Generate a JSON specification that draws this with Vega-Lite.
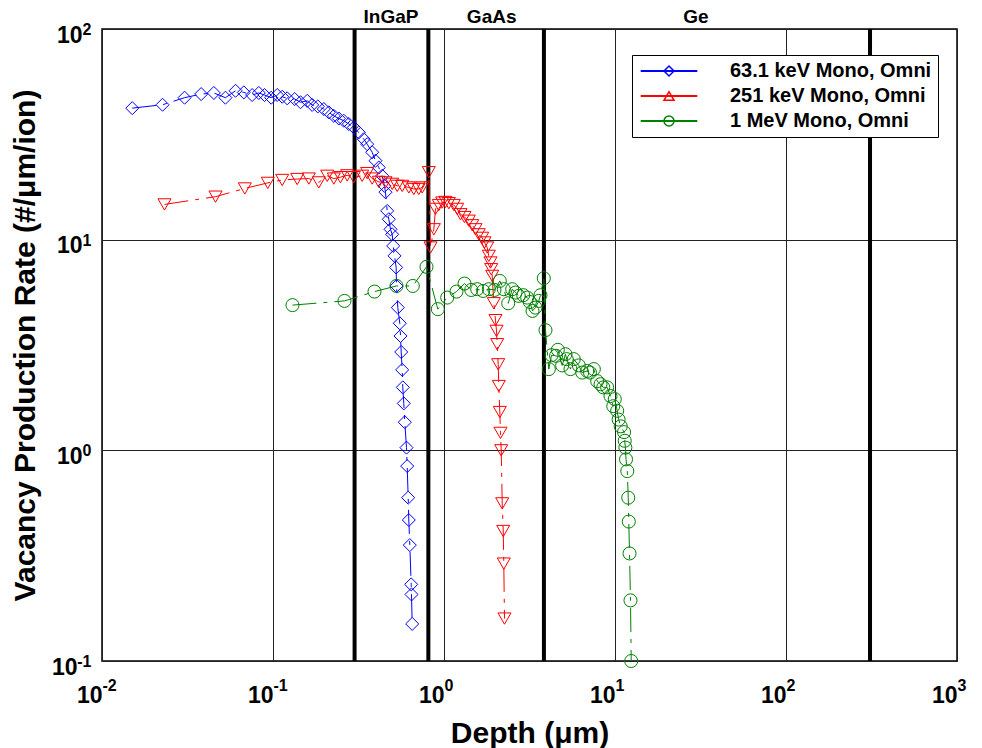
{
  "$schema": "https://vega.github.io/schema/vega-lite/v6.json",
  "width": 855,
  "height": 632,
  "autosize": {"type": "none"},
  "padding": {"left": 102, "top": 29, "right": 25, "bottom": 87},
  "background": "white",
  "config": {
    "view": {"stroke": "black", "strokeWidth": 1.5},
    "font": "Liberation Sans",
    "axis": {
      "grid": true, "gridColor": "#222222", "gridWidth": 1, "gridOpacity": 1,
      "domain": false, "ticks": false,
      "labelFont": "Liberation Sans", "labelFontWeight": "bold", "labelFontSize": 23, "labelColor": "black",
      "titleFont": "Liberation Sans", "titleFontWeight": "bold", "titleFontSize": 30, "titleColor": "black",
      "labelFlush": false, "labelOverlap": false, "labelBound": false
    }
  },
  "datasets": {
    "curves": [
      {"series": "63.1 keV Mono, Omni", "depth": 0.01503, "rate": 42.1},
      {"series": "63.1 keV Mono, Omni", "depth": 0.0226, "rate": 43.7},
      {"series": "63.1 keV Mono, Omni", "depth": 0.0304, "rate": 47.2},
      {"series": "63.1 keV Mono, Omni", "depth": 0.038, "rate": 49.1},
      {"series": "63.1 keV Mono, Omni", "depth": 0.0451, "rate": 49.7},
      {"series": "63.1 keV Mono, Omni", "depth": 0.0527, "rate": 47.2},
      {"series": "63.1 keV Mono, Omni", "depth": 0.0604, "rate": 50.9},
      {"series": "63.1 keV Mono, Omni", "depth": 0.0675, "rate": 50.0},
      {"series": "63.1 keV Mono, Omni", "depth": 0.0755, "rate": 48.6},
      {"series": "63.1 keV Mono, Omni", "depth": 0.0826, "rate": 49.7},
      {"series": "63.1 keV Mono, Omni", "depth": 0.0892, "rate": 48.6},
      {"series": "63.1 keV Mono, Omni", "depth": 0.0976, "rate": 47.2},
      {"series": "63.1 keV Mono, Omni", "depth": 0.1058, "rate": 48.6},
      {"series": "63.1 keV Mono, Omni", "depth": 0.1132, "rate": 47.7},
      {"series": "63.1 keV Mono, Omni", "depth": 0.121, "rate": 46.9},
      {"series": "63.1 keV Mono, Omni", "depth": 0.134, "rate": 46.5},
      {"series": "63.1 keV Mono, Omni", "depth": 0.1448, "rate": 44.9},
      {"series": "63.1 keV Mono, Omni", "depth": 0.1585, "rate": 45.6},
      {"series": "63.1 keV Mono, Omni", "depth": 0.1695, "rate": 43.6},
      {"series": "63.1 keV Mono, Omni", "depth": 0.1828, "rate": 42.9},
      {"series": "63.1 keV Mono, Omni", "depth": 0.1982, "rate": 41.7},
      {"series": "63.1 keV Mono, Omni", "depth": 0.212, "rate": 40.2},
      {"series": "63.1 keV Mono, Omni", "depth": 0.2268, "rate": 38.7},
      {"series": "63.1 keV Mono, Omni", "depth": 0.2426, "rate": 37.6},
      {"series": "63.1 keV Mono, Omni", "depth": 0.2594, "rate": 36.7},
      {"series": "63.1 keV Mono, Omni", "depth": 0.2775, "rate": 35.4},
      {"series": "63.1 keV Mono, Omni", "depth": 0.2969, "rate": 34.1},
      {"series": "63.1 keV Mono, Omni", "depth": 0.3175, "rate": 32.3},
      {"series": "63.1 keV Mono, Omni", "depth": 0.3396, "rate": 30.0},
      {"series": "63.1 keV Mono, Omni", "depth": 0.3555, "rate": 28.4},
      {"series": "63.1 keV Mono, Omni", "depth": 0.3802, "rate": 26.0},
      {"series": "63.1 keV Mono, Omni", "depth": 0.3975, "rate": 23.7},
      {"series": "63.1 keV Mono, Omni", "depth": 0.4156, "rate": 22.0},
      {"series": "63.1 keV Mono, Omni", "depth": 0.4351, "rate": 20.1},
      {"series": "63.1 keV Mono, Omni", "depth": 0.4487, "rate": 18.0},
      {"series": "63.1 keV Mono, Omni", "depth": 0.4548, "rate": 16.8},
      {"series": "63.1 keV Mono, Omni", "depth": 0.4653, "rate": 13.7},
      {"series": "63.1 keV Mono, Omni", "depth": 0.4755, "rate": 12.5},
      {"series": "63.1 keV Mono, Omni", "depth": 0.4865, "rate": 11.2},
      {"series": "63.1 keV Mono, Omni", "depth": 0.4978, "rate": 10.6},
      {"series": "63.1 keV Mono, Omni", "depth": 0.5047, "rate": 9.34},
      {"series": "63.1 keV Mono, Omni", "depth": 0.5134, "rate": 8.38},
      {"series": "63.1 keV Mono, Omni", "depth": 0.525, "rate": 7.38},
      {"series": "63.1 keV Mono, Omni", "depth": 0.5275, "rate": 6.03},
      {"series": "63.1 keV Mono, Omni", "depth": 0.5368, "rate": 4.76},
      {"series": "63.1 keV Mono, Omni", "depth": 0.5514, "rate": 4.01},
      {"series": "63.1 keV Mono, Omni", "depth": 0.5566, "rate": 3.49},
      {"series": "63.1 keV Mono, Omni", "depth": 0.5619, "rate": 2.93},
      {"series": "63.1 keV Mono, Omni", "depth": 0.5696, "rate": 2.41},
      {"series": "63.1 keV Mono, Omni", "depth": 0.5741, "rate": 1.99},
      {"series": "63.1 keV Mono, Omni", "depth": 0.5819, "rate": 1.67},
      {"series": "63.1 keV Mono, Omni", "depth": 0.5899, "rate": 1.36},
      {"series": "63.1 keV Mono, Omni", "depth": 0.6035, "rate": 1.03},
      {"series": "63.1 keV Mono, Omni", "depth": 0.6092, "rate": 0.842},
      {"series": "63.1 keV Mono, Omni", "depth": 0.6174, "rate": 0.596},
      {"series": "63.1 keV Mono, Omni", "depth": 0.6225, "rate": 0.467},
      {"series": "63.1 keV Mono, Omni", "depth": 0.631, "rate": 0.355},
      {"series": "63.1 keV Mono, Omni", "depth": 0.643, "rate": 0.231},
      {"series": "63.1 keV Mono, Omni", "depth": 0.6457, "rate": 0.207},
      {"series": "63.1 keV Mono, Omni", "depth": 0.6516, "rate": 0.150},
      {"series": "251 keV Mono, Omni", "depth": 0.0232, "rate": 14.7},
      {"series": "251 keV Mono, Omni", "depth": 0.0461, "rate": 16.0},
      {"series": "251 keV Mono, Omni", "depth": 0.0684, "rate": 17.5},
      {"series": "251 keV Mono, Omni", "depth": 0.0932, "rate": 18.6},
      {"series": "251 keV Mono, Omni", "depth": 0.1132, "rate": 19.2},
      {"series": "251 keV Mono, Omni", "depth": 0.1385, "rate": 19.4},
      {"series": "251 keV Mono, Omni", "depth": 0.162, "rate": 19.5},
      {"series": "251 keV Mono, Omni", "depth": 0.1852, "rate": 18.7},
      {"series": "251 keV Mono, Omni", "depth": 0.2075, "rate": 20.1},
      {"series": "251 keV Mono, Omni", "depth": 0.2268, "rate": 19.5},
      {"series": "251 keV Mono, Omni", "depth": 0.248, "rate": 19.8},
      {"series": "251 keV Mono, Omni", "depth": 0.2716, "rate": 20.2},
      {"series": "251 keV Mono, Omni", "depth": 0.2969, "rate": 19.8},
      {"series": "251 keV Mono, Omni", "depth": 0.3323, "rate": 20.1},
      {"series": "251 keV Mono, Omni", "depth": 0.3555, "rate": 20.7},
      {"series": "251 keV Mono, Omni", "depth": 0.3802, "rate": 19.5},
      {"series": "251 keV Mono, Omni", "depth": 0.4156, "rate": 18.8},
      {"series": "251 keV Mono, Omni", "depth": 0.4548, "rate": 18.7},
      {"series": "251 keV Mono, Omni", "depth": 0.4978, "rate": 18.4},
      {"series": "251 keV Mono, Omni", "depth": 0.5325, "rate": 18.0},
      {"series": "251 keV Mono, Omni", "depth": 0.5696, "rate": 18.0},
      {"series": "251 keV Mono, Omni", "depth": 0.6225, "rate": 17.7},
      {"series": "251 keV Mono, Omni", "depth": 0.6659, "rate": 17.4},
      {"series": "251 keV Mono, Omni", "depth": 0.712, "rate": 17.4},
      {"series": "251 keV Mono, Omni", "depth": 0.7455, "rate": 17.7},
      {"series": "251 keV Mono, Omni", "depth": 0.815, "rate": 20.9},
      {"series": "251 keV Mono, Omni", "depth": 0.834, "rate": 9.18},
      {"series": "251 keV Mono, Omni", "depth": 0.872, "rate": 11.2},
      {"series": "251 keV Mono, Omni", "depth": 0.892, "rate": 14.0},
      {"series": "251 keV Mono, Omni", "depth": 0.932, "rate": 14.6},
      {"series": "251 keV Mono, Omni", "depth": 0.976, "rate": 15.0},
      {"series": "251 keV Mono, Omni", "depth": 1.02, "rate": 15.1},
      {"series": "251 keV Mono, Omni", "depth": 1.067, "rate": 14.9},
      {"series": "251 keV Mono, Omni", "depth": 1.141, "rate": 14.6},
      {"series": "251 keV Mono, Omni", "depth": 1.195, "rate": 14.0},
      {"series": "251 keV Mono, Omni", "depth": 1.249, "rate": 13.2},
      {"series": "251 keV Mono, Omni", "depth": 1.318, "rate": 12.8},
      {"series": "251 keV Mono, Omni", "depth": 1.396, "rate": 12.3},
      {"series": "251 keV Mono, Omni", "depth": 1.462, "rate": 11.7},
      {"series": "251 keV Mono, Omni", "depth": 1.528, "rate": 11.2},
      {"series": "251 keV Mono, Omni", "depth": 1.597, "rate": 10.6},
      {"series": "251 keV Mono, Omni", "depth": 1.673, "rate": 10.2},
      {"series": "251 keV Mono, Omni", "depth": 1.725, "rate": 9.7},
      {"series": "251 keV Mono, Omni", "depth": 1.789, "rate": 9.18},
      {"series": "251 keV Mono, Omni", "depth": 1.828, "rate": 8.38},
      {"series": "251 keV Mono, Omni", "depth": 1.87, "rate": 7.79},
      {"series": "251 keV Mono, Omni", "depth": 1.888, "rate": 7.24},
      {"series": "251 keV Mono, Omni", "depth": 1.914, "rate": 6.73},
      {"series": "251 keV Mono, Omni", "depth": 1.956, "rate": 4.99},
      {"series": "251 keV Mono, Omni", "depth": 2.0, "rate": 4.15},
      {"series": "251 keV Mono, Omni", "depth": 2.028, "rate": 3.69},
      {"series": "251 keV Mono, Omni", "depth": 2.047, "rate": 3.19},
      {"series": "251 keV Mono, Omni", "depth": 2.075, "rate": 2.56},
      {"series": "251 keV Mono, Omni", "depth": 2.092, "rate": 2.02},
      {"series": "251 keV Mono, Omni", "depth": 2.12, "rate": 1.52},
      {"series": "251 keV Mono, Omni", "depth": 2.14, "rate": 1.21},
      {"series": "251 keV Mono, Omni", "depth": 2.161, "rate": 1.0},
      {"series": "251 keV Mono, Omni", "depth": 2.19, "rate": 0.56},
      {"series": "251 keV Mono, Omni", "depth": 2.22, "rate": 0.414},
      {"series": "251 keV Mono, Omni", "depth": 2.237, "rate": 0.29},
      {"series": "251 keV Mono, Omni", "depth": 2.258, "rate": 0.159},
      {"series": "1 MeV Mono, Omni", "depth": 0.13, "rate": 4.89},
      {"series": "1 MeV Mono, Omni", "depth": 0.2618, "rate": 5.12},
      {"series": "1 MeV Mono, Omni", "depth": 0.3923, "rate": 5.67},
      {"series": "1 MeV Mono, Omni", "depth": 0.5275, "rate": 6.03},
      {"series": "1 MeV Mono, Omni", "depth": 0.657, "rate": 6.03},
      {"series": "1 MeV Mono, Omni", "depth": 0.79, "rate": 7.43},
      {"series": "1 MeV Mono, Omni", "depth": 0.92, "rate": 4.68},
      {"series": "1 MeV Mono, Omni", "depth": 1.044, "rate": 5.31},
      {"series": "1 MeV Mono, Omni", "depth": 1.183, "rate": 5.67},
      {"series": "1 MeV Mono, Omni", "depth": 1.318, "rate": 6.19},
      {"series": "1 MeV Mono, Omni", "depth": 1.443, "rate": 5.77},
      {"series": "1 MeV Mono, Omni", "depth": 1.564, "rate": 5.82},
      {"series": "1 MeV Mono, Omni", "depth": 1.695, "rate": 5.71},
      {"series": "1 MeV Mono, Omni", "depth": 1.828, "rate": 5.82},
      {"series": "1 MeV Mono, Omni", "depth": 1.974, "rate": 5.77},
      {"series": "1 MeV Mono, Omni", "depth": 2.12, "rate": 6.37},
      {"series": "1 MeV Mono, Omni", "depth": 2.237, "rate": 5.82},
      {"series": "1 MeV Mono, Omni", "depth": 2.374, "rate": 4.99},
      {"series": "1 MeV Mono, Omni", "depth": 2.505, "rate": 5.82},
      {"series": "1 MeV Mono, Omni", "depth": 2.619, "rate": 5.61},
      {"series": "1 MeV Mono, Omni", "depth": 2.738, "rate": 5.41},
      {"series": "1 MeV Mono, Omni", "depth": 2.906, "rate": 5.45},
      {"series": "1 MeV Mono, Omni", "depth": 3.065, "rate": 5.31},
      {"series": "1 MeV Mono, Omni", "depth": 3.177, "rate": 5.06},
      {"series": "1 MeV Mono, Omni", "depth": 3.293, "rate": 4.59},
      {"series": "1 MeV Mono, Omni", "depth": 3.428, "rate": 4.76},
      {"series": "1 MeV Mono, Omni", "depth": 3.584, "rate": 5.12},
      {"series": "1 MeV Mono, Omni", "depth": 3.667, "rate": 5.45},
      {"series": "1 MeV Mono, Omni", "depth": 3.833, "rate": 6.56},
      {"series": "1 MeV Mono, Omni", "depth": 3.922, "rate": 3.72},
      {"series": "1 MeV Mono, Omni", "depth": 4.102, "rate": 2.43},
      {"series": "1 MeV Mono, Omni", "depth": 4.253, "rate": 2.83},
      {"series": "1 MeV Mono, Omni", "depth": 4.52, "rate": 2.81},
      {"series": "1 MeV Mono, Omni", "depth": 4.63, "rate": 3.0},
      {"series": "1 MeV Mono, Omni", "depth": 4.91, "rate": 2.53},
      {"series": "1 MeV Mono, Omni", "depth": 5.13, "rate": 2.86},
      {"series": "1 MeV Mono, Omni", "depth": 5.22, "rate": 2.71},
      {"series": "1 MeV Mono, Omni", "depth": 5.49, "rate": 2.43},
      {"series": "1 MeV Mono, Omni", "depth": 5.74, "rate": 2.71},
      {"series": "1 MeV Mono, Omni", "depth": 6.14, "rate": 2.53},
      {"series": "1 MeV Mono, Omni", "depth": 6.43, "rate": 2.34},
      {"series": "1 MeV Mono, Omni", "depth": 6.88, "rate": 2.38},
      {"series": "1 MeV Mono, Omni", "depth": 7.14, "rate": 2.34},
      {"series": "1 MeV Mono, Omni", "depth": 7.52, "rate": 2.43},
      {"series": "1 MeV Mono, Omni", "depth": 7.87, "rate": 2.13},
      {"series": "1 MeV Mono, Omni", "depth": 8.23, "rate": 2.06},
      {"series": "1 MeV Mono, Omni", "depth": 8.54, "rate": 1.99},
      {"series": "1 MeV Mono, Omni", "depth": 9.0, "rate": 1.99},
      {"series": "1 MeV Mono, Omni", "depth": 9.41, "rate": 1.81},
      {"series": "1 MeV Mono, Omni", "depth": 9.77, "rate": 1.62},
      {"series": "1 MeV Mono, Omni", "depth": 9.97, "rate": 1.75},
      {"series": "1 MeV Mono, Omni", "depth": 10.3, "rate": 1.54},
      {"series": "1 MeV Mono, Omni", "depth": 10.5, "rate": 1.4},
      {"series": "1 MeV Mono, Omni", "depth": 10.8, "rate": 1.3},
      {"series": "1 MeV Mono, Omni", "depth": 11.3, "rate": 1.22},
      {"series": "1 MeV Mono, Omni", "depth": 11.4, "rate": 1.11},
      {"series": "1 MeV Mono, Omni", "depth": 11.5, "rate": 1.03},
      {"series": "1 MeV Mono, Omni", "depth": 11.6, "rate": 0.906},
      {"series": "1 MeV Mono, Omni", "depth": 11.8, "rate": 0.797},
      {"series": "1 MeV Mono, Omni", "depth": 11.95, "rate": 0.596},
      {"series": "1 MeV Mono, Omni", "depth": 12.04, "rate": 0.459},
      {"series": "1 MeV Mono, Omni", "depth": 12.16, "rate": 0.324},
      {"series": "1 MeV Mono, Omni", "depth": 12.32, "rate": 0.194},
      {"series": "1 MeV Mono, Omni", "depth": 12.44, "rate": 0.1}
    ],
    "boundaries": [
      {"depth": 0.3}, {"depth": 0.81}, {"depth": 3.84}, {"depth": 310}
    ],
    "layers": [
      {"material": "InGaP", "depth": 0.49},
      {"material": "GaAs", "depth": 1.9},
      {"material": "Ge", "depth": 29.7}
    ]
  },
  "layer": [
    {
      "data": {"name": "boundaries"},
      "mark": {"type": "rule", "color": "black", "strokeWidth": 4},
      "encoding": {
        "x": {
          "field": "depth", "type": "quantitative",
          "scale": {"type": "log", "domain": [0.01, 1000], "nice": false},
          "axis": {
            "orient": "bottom",
            "values": [0.01, 0.1, 1, 10, 100, 1000],
            "labelExpr": "'10'",
            "labelAlign": "right",
            "labelPadding": 23,
            "encode": {"labels": {"update": {"dx": {"signal": "datum.value < 1 ? 5.7 : 8.4"}}}},
            "title": "Depth (μm)",
            "titleY": 81, "titleBaseline": "alphabetic"
          }
        }
      }
    },
    {
      "data": {"name": "curves"},
      "mark": {"type": "line", "strokeWidth": 1, "strokeDash": [24, 7, 4, 7]},
      "encoding": {
        "x": {"field": "depth", "type": "quantitative", "scale": {"type": "log", "domain": [0.01, 1000], "nice": false}, "axis": null},
        "y": {
          "field": "rate", "type": "quantitative",
          "scale": {"type": "log", "domain": [0.1, 100], "nice": false},
          "axis": {
            "orient": "left",
            "values": [0.1, 1, 10, 100],
            "labelExpr": "datum.value < 1 ? '' : '10'",
            "labelAlign": "right", "labelBaseline": "alphabetic",
            "labelPadding": 20, "labelOffset": 13,
            "title": "Vacancy Production Rate (#/μm/ion)",
            "titleX": -68, "titleY": 316, "titleAngle": -90, "titleAlign": "center", "titleBaseline": "alphabetic"
          }
        },
        "color": {
          "field": "series", "type": "nominal",
          "scale": {"domain": ["63.1 keV Mono, Omni", "251 keV Mono, Omni", "1 MeV Mono, Omni"], "range": ["#0000ff", "#ff0000", "#008000"]},
          "legend": {
            "orient": "none", "legendX": 530, "legendY": 26, "title": null,
            "padding": 6, "rowPadding": 5,
            "fillColor": "white", "strokeColor": "black",
            "symbolType": "M-5.66,0H5.66", "symbolSize": 100, "symbolStrokeWidth": 2, "symbolOffset": 21,
            "labelOffset": 51, "labelLimit": 600, "labelFont": "Liberation Sans", "labelFontWeight": "bold", "labelFontSize": 20, "labelColor": "black",
            "labelExpr": "datum.label + '  '",
            "encode": {"symbols": {"update": {"strokeDash": {"value": []}}}}
          }
        }
      }
    },
    {
      "data": {"name": "curves"},
      "mark": {"type": "point", "filled": false, "size": 170, "strokeWidth": 1, "angle": 180, "opacity": 1},
      "encoding": {
        "x": {
          "field": "depth", "type": "quantitative",
          "scale": {"type": "log", "domain": [0.01, 1000], "nice": false},
          "axis": {
            "orient": "bottom",
            "values": [0.01, 0.1, 1, 10, 100, 1000],
            "labelExpr": "'' + round(log(datum.value)/LN10)",
            "labelFontSize": 16, "labelAlign": "left", "labelPadding": 16,
            "grid": false, "title": null,
            "encode": {"labels": {"update": {"dx": {"signal": "datum.value < 1 ? 5.7 : 8.4"}}}}
          }
        },
        "y": {
          "field": "rate", "type": "quantitative",
          "scale": {"type": "log", "domain": [0.1, 100], "nice": false},
          "axis": {
            "orient": "left",
            "values": [0.1, 1, 10, 100],
            "labelExpr": "'' + round(log(datum.value)/LN10)",
            "labelFontSize": 16, "labelAlign": "right", "labelBaseline": "alphabetic", "labelPadding": 11, "labelOffset": 5.5,
            "grid": false, "title": null
          }
        },
        "color": {
          "field": "series", "type": "nominal",
          "scale": {"domain": ["63.1 keV Mono, Omni", "251 keV Mono, Omni", "1 MeV Mono, Omni"], "range": ["#0000ff", "#ff0000", "#008000"]},
          "legend": {
            "orient": "none", "legendX": 530, "legendY": 26, "title": null,
            "padding": 6, "rowPadding": 5,
            "symbolSize": 100, "symbolStrokeWidth": 1.5, "symbolOffset": 21,
            "labelOffset": 51, "labelLimit": 600, "labelFont": "Liberation Sans", "labelFontWeight": "bold", "labelFontSize": 20, "labelOpacity": 0,
            "labelExpr": "datum.label + '  '",
            "encode": {"symbols": {"update": {"fill": {"value": "white"}}}}
          }
        },
        "shape": {
          "field": "series", "type": "nominal",
          "scale": {"domain": ["63.1 keV Mono, Omni", "251 keV Mono, Omni", "1 MeV Mono, Omni"], "range": ["diamond", "triangle-up", "circle"]},
          "legend": {
            "orient": "none", "legendX": 530, "legendY": 26, "title": null,
            "padding": 6, "rowPadding": 5,
            "symbolSize": 100, "symbolStrokeWidth": 1.5, "symbolOffset": 21,
            "labelOffset": 51, "labelLimit": 600, "labelFont": "Liberation Sans", "labelFontWeight": "bold", "labelFontSize": 20, "labelOpacity": 0,
            "labelExpr": "datum.label + '  '",
            "encode": {"symbols": {"update": {"fill": {"value": "white"}}}}
          }
        }
      }
    },
    {
      "data": {"name": "layers"},
      "mark": {"type": "text", "font": "Liberation Sans", "fontWeight": "bold", "fontSize": 19, "baseline": "alphabetic", "align": "center", "color": "black"},
      "encoding": {
        "x": {"field": "depth", "type": "quantitative", "scale": {"type": "log", "domain": [0.01, 1000], "nice": false}, "axis": null},
        "y": {
          "datum": 106.4, "type": "quantitative",
          "scale": {"type": "log", "domain": [0.1, 100], "nice": false},
          "axis": {
            "orient": "left",
            "values": [0.1],
            "labelExpr": "'10'",
            "labelAlign": "right", "labelBaseline": "alphabetic",
            "labelPadding": 25, "labelOffset": 13,
            "grid": false, "title": null
          }
        },
        "text": {"field": "material"}
      }
    }
  ],
  "resolve": {
    "axis": {"x": "independent", "y": "independent"},
    "legend": {"color": "independent", "shape": "independent"}
  }
}
